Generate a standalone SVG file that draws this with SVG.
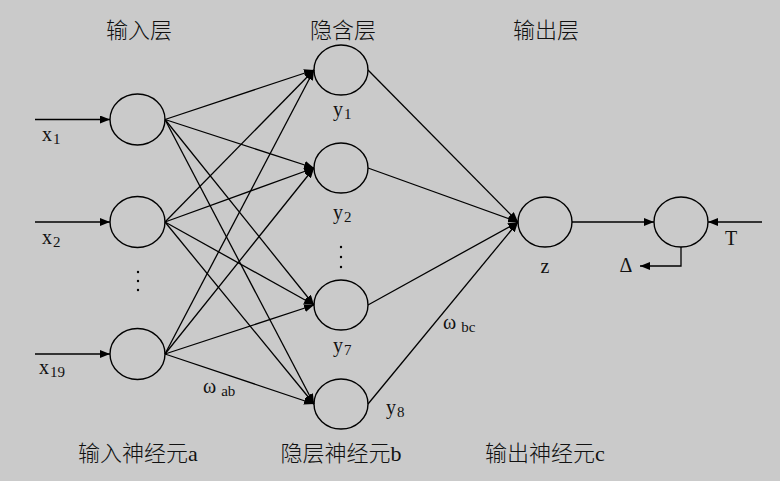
<svg xmlns="http://www.w3.org/2000/svg" width="780" height="481" viewBox="0 0 780 481">
<defs>
<style>
.bg{fill:#cacaca}
.node{fill:none;stroke:#000;stroke-width:1.4}
.edge{fill:none;stroke:#000;stroke-width:1.3}
.cjk{font-family:"Liberation Serif","Noto Sans CJK SC",serif;font-size:22px;font-weight:300;fill:#111}
.lat{font-family:"Liberation Serif",serif;font-size:20px;fill:#111}
.sub{font-size:15px}
.dot{fill:#000}
</style>
<marker id="ah" viewBox="0 0 10 8" refX="10" refY="4" markerWidth="10" markerHeight="8" markerUnits="userSpaceOnUse" orient="auto">
<path d="M0,0 L10,4 L0,8 Z" fill="#000"/>
</marker>
</defs>
<rect class="bg" x="0" y="0" width="780" height="481"/>
<g id="titles">
<text class="cjk" x="139" y="38" text-anchor="middle">输入层</text>
<text class="cjk" x="343" y="38" text-anchor="middle">隐含层</text>
<text class="cjk" x="546" y="38" text-anchor="middle">输出层</text>
<text class="cjk" x="138" y="461" text-anchor="middle">输入神经元a</text>
<text class="cjk" x="341" y="461" text-anchor="middle">隐层神经元b</text>
<text class="cjk" x="545" y="461" text-anchor="middle">输出神经元c</text>
</g>
<g id="connectors">
<line class="edge" x1="35" y1="119.5" x2="110" y2="119.5" marker-end="url(#ah)"/>
<line class="edge" x1="35" y1="222" x2="110" y2="222" marker-end="url(#ah)"/>
<line class="edge" x1="35" y1="354" x2="110" y2="354" marker-end="url(#ah)"/>
<line class="edge" x1="165" y1="119.5" x2="314" y2="70" marker-end="url(#ah)"/>
<line class="edge" x1="165" y1="119.5" x2="314" y2="168" marker-end="url(#ah)"/>
<line class="edge" x1="165" y1="119.5" x2="314" y2="305" marker-end="url(#ah)"/>
<line class="edge" x1="165" y1="119.5" x2="314" y2="404" marker-end="url(#ah)"/>
<line class="edge" x1="165" y1="222" x2="314" y2="70" marker-end="url(#ah)"/>
<line class="edge" x1="165" y1="222" x2="314" y2="168" marker-end="url(#ah)"/>
<line class="edge" x1="165" y1="222" x2="314" y2="305" marker-end="url(#ah)"/>
<line class="edge" x1="165" y1="222" x2="314" y2="404" marker-end="url(#ah)"/>
<line class="edge" x1="165" y1="354" x2="314" y2="70" marker-end="url(#ah)"/>
<line class="edge" x1="165" y1="354" x2="314" y2="168" marker-end="url(#ah)"/>
<line class="edge" x1="165" y1="354" x2="314" y2="305" marker-end="url(#ah)"/>
<line class="edge" x1="165" y1="354" x2="314" y2="404" marker-end="url(#ah)"/>
<line class="edge" x1="368" y1="70" x2="518" y2="222" marker-end="url(#ah)"/>
<line class="edge" x1="368" y1="168" x2="518" y2="222" marker-end="url(#ah)"/>
<line class="edge" x1="368" y1="305" x2="518" y2="222" marker-end="url(#ah)"/>
<line class="edge" x1="368" y1="404" x2="518" y2="222" marker-end="url(#ah)"/>
<line class="edge" x1="572" y1="222" x2="654" y2="222" marker-end="url(#ah)"/>
<line class="edge" x1="762" y1="222" x2="708" y2="222" marker-end="url(#ah)"/>
<polyline class="edge" points="681,247 681,266 640,266" marker-end="url(#ah)"/>
</g>
<g id="input1"><ellipse class="node" cx="137.5" cy="119.5" rx="27.5" ry="25.5"/><text class="lat" x="42" y="141">x<tspan class="sub" dx="1" dy="3">1</tspan></text></g>
<g id="input2"><ellipse class="node" cx="137.5" cy="222" rx="27.5" ry="25.5"/><text class="lat" x="42" y="244">x<tspan class="sub" dx="1" dy="3">2</tspan></text></g>
<g id="input-dots"><circle class="dot" cx="138" cy="272" r="1.2"/><circle class="dot" cx="138" cy="281" r="1.2"/><circle class="dot" cx="138" cy="290" r="1.2"/></g>
<g id="input19"><ellipse class="node" cx="137.5" cy="354" rx="27.5" ry="25.5"/><text class="lat" x="39" y="374">x<tspan class="sub" dx="1" dy="3">19</tspan></text></g>
<g id="hidden1"><ellipse class="node" cx="341" cy="70" rx="27" ry="25"/><text class="lat" x="333" y="116">y<tspan class="sub" dx="1" dy="3">1</tspan></text></g>
<g id="hidden2"><ellipse class="node" cx="341" cy="168" rx="27" ry="25"/><text class="lat" x="333" y="219">y<tspan class="sub" dx="1" dy="3">2</tspan></text></g>
<g id="hidden-dots"><circle class="dot" cx="341" cy="247" r="1.2"/><circle class="dot" cx="341" cy="257" r="1.2"/><circle class="dot" cx="341" cy="267" r="1.2"/></g>
<g id="hidden7"><ellipse class="node" cx="341" cy="305" rx="27" ry="25"/><text class="lat" x="333" y="352">y<tspan class="sub" dx="1" dy="3">7</tspan></text></g>
<g id="hidden8"><ellipse class="node" cx="341" cy="404" rx="27" ry="25"/><text class="lat" x="386" y="414">y<tspan class="sub" dx="1" dy="3">8</tspan></text></g>
<g id="output"><ellipse class="node" cx="545" cy="222" rx="27" ry="25"/><text class="lat" x="545" y="273" text-anchor="middle">z</text></g>
<g id="compare"><ellipse class="node" cx="681" cy="222" rx="27" ry="25"/><text class="lat" x="731" y="245" text-anchor="middle">T</text><text class="lat" x="626" y="272" text-anchor="middle">Δ</text></g>
<g id="weights">
<text class="lat" x="203" y="393">ω<tspan class="sub" dx="5" dy="3">ab</tspan></text>
<text class="lat" x="443" y="329">ω<tspan class="sub" dx="5" dy="3">bc</tspan></text>
</g>
</svg>
